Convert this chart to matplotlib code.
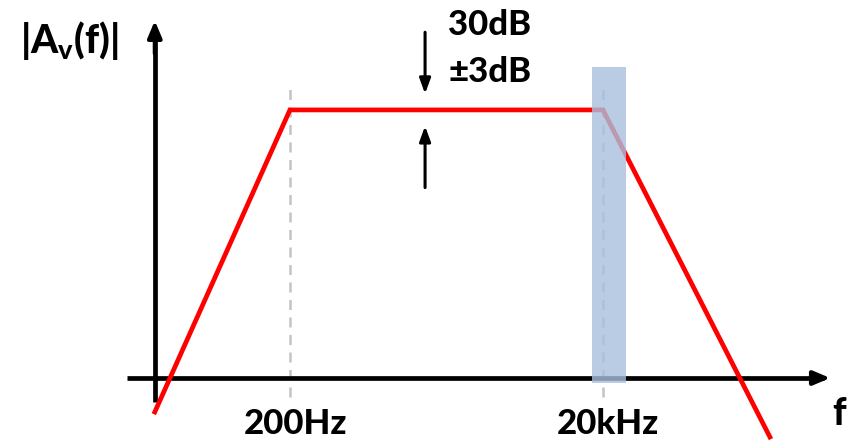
import matplotlib
matplotlib.use("Agg")
import matplotlib.pyplot as plt
from matplotlib.patches import Rectangle

plt.rcParams["font.family"] = ["Lato", "DejaVu Sans"]
plt.rcParams["mathtext.fontset"] = "custom"
plt.rcParams["mathtext.bf"] = "Lato:black"
plt.rcParams["mathtext.rm"] = "Lato"

# gain curve (frequency in Hz, gain in dB)
curve_freq = [27.4, 200, 20000, 233000]
curve_gain = [-3.8, 30, 30, -6.6]

# corner frequencies and their labels
corner_freq = [200, 20000]
corner_labels = ["200Hz", "20kHz"]

# highlighted band around the upper corner
band_freq = [17000, 28000]
band_gain = [-0.6, 34.8]

fig = plt.figure(figsize=(8.49, 4.42), dpi=100)
ax = fig.add_axes([0, 0, 1, 1])
ax.set_xscale("log")
ax.set_xlim(2.81, 746000)
ax.set_ylim(-7.16, 42.3)
ax.axis("off")

# axes with arrow heads
ax.plot([27.4, 27.4], [-2.7, 38], color="black", lw=3.4, solid_capstyle="butt")
ax.annotate("", xy=(27.4, 40.3), xytext=(27.4, 36),
            arrowprops=dict(arrowstyle="-|>,head_length=1.0,head_width=0.42", color="black", lw=3))
ax.plot([18.2, 520000], [0, 0], color="black", lw=3.4, solid_capstyle="butt")
ax.annotate("", xy=(590000, 0), xytext=(450000, 0),
            arrowprops=dict(arrowstyle="-|>,head_length=1.0,head_width=0.42", color="black", lw=3))

# dashed corner markers
for fc in corner_freq:
    ax.plot([fc, fc], [-2.1, 32.4], color="#c4c4c4", lw=1.8, ls=(0, (4, 3)), zorder=1)

# shaded band
ax.add_patch(Rectangle((band_freq[0], band_gain[0]), band_freq[1] - band_freq[0],
                       band_gain[1] - band_gain[0], facecolor="#a9c0de", alpha=0.8,
                       edgecolor="none", zorder=4))

# response line
ax.plot(curve_freq, curve_gain, color="#ff0000", lw=3.4, zorder=3, solid_joinstyle="miter")

# +-3dB arrows
ax.annotate("", xy=(1460, 31.5), xytext=(1460, 39.0),
            arrowprops=dict(arrowstyle="-|>,head_length=0.9,head_width=0.33", color="black", lw=2.2))
ax.annotate("", xy=(1460, 28.5), xytext=(1460, 21.0),
            arrowprops=dict(arrowstyle="-|>,head_length=0.9,head_width=0.33", color="black", lw=2.2))

# text
fs = 25
for fc, lab in zip(corner_freq, corner_labels):
    ax.text(fc * 1.08, -5.2, lab, ha="center", va="center", fontsize=fs, fontweight="black")
ax.text(640000, -4.0, "f", ha="center", va="center", fontsize=fs + 2, fontweight="black")
ax.text(2050, 39.5, "30dB", ha="left", va="center", fontsize=fs, fontweight="black")
ax.text(2050, 34.2, "±3dB", ha="left", va="center", fontsize=fs, fontweight="black")
ax.text(3.75, 37.8, r"|A$_\mathbf{v}$(f)|", ha="left", va="center", fontsize=fs + 3, fontweight="black")

fig.savefig("out.png", dpi=100)
